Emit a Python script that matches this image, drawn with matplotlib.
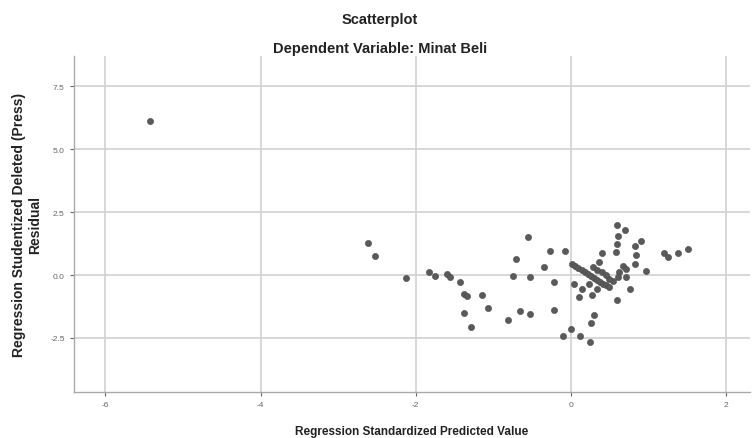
import matplotlib
matplotlib.use("Agg")
import matplotlib.pyplot as plt

plt.rcParams['font.family'] = ['Liberation Sans', 'DejaVu Sans']

title = "Scatterplot"
subtitle = "Dependent Variable: Minat Beli"
x_label = "Regression Standardized Predicted Value"
y_label = "Regression Studentized Deleted (Press)\nResidual"

x_ticks = [-6, -4, -2, 0, 2]
x_tick_labels = ["-6", "-4", "-2", "0", "2"]
y_ticks = [-2.5, 0.0, 2.5, 5.0, 7.5]
y_tick_labels = ["-2.5", "0.0", "2.5", "5.0", "7.5"]

# points (predicted, residual)
pred = [-5.43, -2.62, -2.52, -2.12, -1.83, -1.75, -1.60, -1.55, -1.43, -1.38,
        -1.34, -1.14, -1.38, -1.06, -1.29, -0.81, -0.65, -0.53, -0.75, -0.53,
        -0.71, -0.55, -0.34, -0.26, -0.22, -0.22, -0.07, -0.10, 0.00, 0.12,
        0.25, 0.26, 0.30, 0.04, 0.15, 0.11, 0.24, 0.28, 0.34,
        0.02, 0.06, 0.10, 0.14, 0.18, 0.22, 0.26, 0.30, 0.34, 0.38, 0.42, 0.46, 0.50,
        0.60, 0.70, 0.61, 0.60, 0.58, 0.40, 0.36, 0.83, 0.91, 0.84, 0.83, 0.97,
        1.20, 1.26, 1.39, 1.51, 0.68, 0.71, 0.63, 0.71, 0.61, 0.55, 0.50,
        0.29, 0.34, 0.40, 0.45, 0.76, 0.60]
resid = [6.12, 1.27, 0.75, -0.12, 0.11, -0.04, 0.04, -0.07, -0.26, -0.74,
         -0.82, -0.79, -1.51, -1.32, -2.06, -1.79, -1.41, -1.55, -0.05, -0.07,
         0.65, 1.52, 0.33, 0.95, -0.26, -1.38, 0.95, -2.42, -2.14, -2.41,
         -2.67, -1.90, -1.57, -0.34, -0.56, -0.87, -0.36, -0.81, -0.56,
         0.44, 0.36, 0.28, 0.21, 0.13, 0.05, -0.03, -0.10, -0.18, -0.26, -0.34, -0.41, -0.49,
         1.98, 1.80, 1.56, 1.23, 0.90, 0.87, 0.53, 1.16, 1.36, 0.79, 0.44, 0.17,
         0.86, 0.70, 0.87, 1.03, 0.34, 0.24, 0.11, -0.09, -0.09, -0.22, -0.16,
         0.31, 0.20, 0.13, 0.02, -0.56, -0.98]

fig = plt.figure(figsize=(7.52, 4.39), dpi=100)
ax = fig.add_axes([0.098, 0.105, 0.899, 0.765])

ax.scatter(pred, resid, s=20, color='#5a5a5a', edgecolors='#4a4a4a',
           linewidths=0.4, zorder=3)

ax.set_xlim(-6.41, 2.31)
ax.set_ylim(-4.64, 8.69)
ax.set_xticks(x_ticks)
ax.set_xticklabels(x_tick_labels)
ax.set_yticks(y_ticks)
ax.set_yticklabels(y_tick_labels)
ax.tick_params(labelsize=6, colors='#666666', length=3, width=0.8)

ax.grid(True, color='#d4d4d4', linewidth=1.3, zorder=0)
ax.set_axisbelow(True)
for side in ['top', 'right']:
    ax.spines[side].set_visible(False)
for side in ['left', 'bottom']:
    ax.spines[side].set_color('#aaaaaa')
    ax.spines[side].set_linewidth(1.0)

ax.set_xlabel(x_label, fontsize=8.5, fontweight='bold', color='#222222', labelpad=12)
ax.set_ylabel(y_label, fontsize=10, fontweight='bold', color='#222222', labelpad=6)

fig.text(0.505, 0.955, title, ha='center', va='center', fontsize=10.5,
         fontweight='bold', color='#222222')
fig.text(0.505, 0.888, subtitle, ha='center', va='center', fontsize=10.5,
         fontweight='bold', color='#222222')

fig.savefig("out.png", dpi=100)
